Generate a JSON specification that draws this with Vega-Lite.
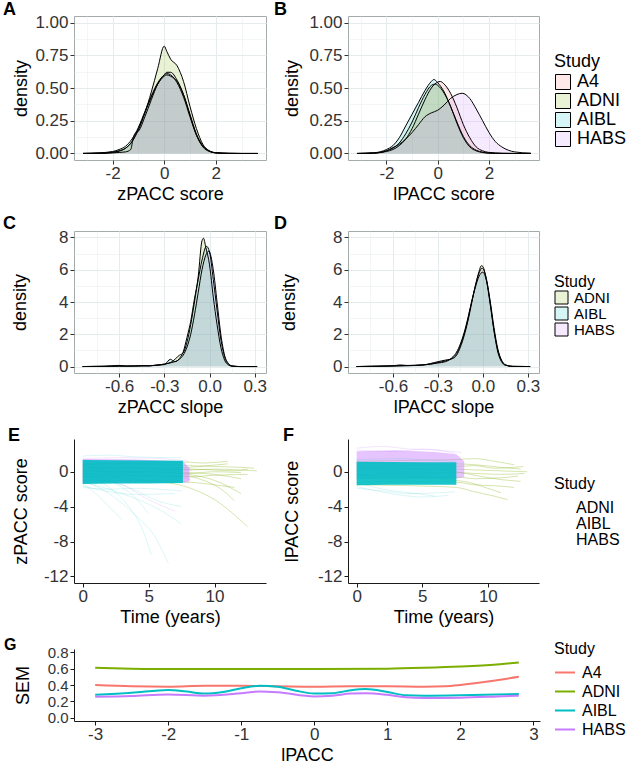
{
"$schema": "https://vega.github.io/schema/vega-lite/v6.json",
"background": "white",
"padding": {"left": 2, "top": 0, "right": 0, "bottom": 0},
"spacing": 10,
"config": {
  "font": "Liberation Sans",
  "view": {"stroke": null},
  "locale": {"number": {"decimal": ".", "thousands": ",", "grouping": [3], "currency": ["$", ""], "minus": "-"}},
  "axis": {"labelFontSize": 17, "labelColor": "#333333", "titleFontSize": 18, "titleFontWeight": "normal", "titleColor": "#000000", "tickColor": "#333333", "tickSize": 4, "tickWidth": 1, "labelPadding": 2, "gridColor": "#E6ECEE", "labelFlush": false, "labelOverlap": false},
  "axisX": {"labelPadding": 1, "titlePadding": 4},
  "legend": {"titleFontSize": 17, "titleFontWeight": "normal", "titleColor": "#000000", "labelFontSize": 17, "labelColor": "#000000"},
  "title": {"fontSize": 18, "fontWeight": "bold", "color": "#000000", "anchor": "start", "frame": "group", "baseline": "alphabetic"}
},
"resolve": {"scale": {"x": "independent", "y": "independent", "color": "independent", "fill": "independent"}, "axis": {"x": "independent", "y": "independent"}, "legend": {"color": "independent", "fill": "independent"}},
"datasets": {
  "dA": [
    {"Study":"A4","x":-3.15,"d":0},{"Study":"A4","x":-2.5,"d":0.003},{"Study":"A4","x":-2,"d":0.01},{"Study":"A4","x":-1.75,"d":0.02},{"Study":"A4","x":-1.5,"d":0.04},{"Study":"A4","x":-1.25,"d":0.09},{"Study":"A4","x":-1,"d":0.19},{"Study":"A4","x":-0.75,"d":0.31},{"Study":"A4","x":-0.5,"d":0.43},{"Study":"A4","x":-0.25,"d":0.53},{"Study":"A4","x":0,"d":0.59},{"Study":"A4","x":0.1,"d":0.6},{"Study":"A4","x":0.25,"d":0.59},{"Study":"A4","x":0.5,"d":0.55},{"Study":"A4","x":0.75,"d":0.45},{"Study":"A4","x":1,"d":0.3},{"Study":"A4","x":1.25,"d":0.15},{"Study":"A4","x":1.5,"d":0.06},{"Study":"A4","x":1.75,"d":0.02},{"Study":"A4","x":2,"d":0.006},{"Study":"A4","x":2.5,"d":0.001},{"Study":"A4","x":3,"d":0},{"Study":"A4","x":3.63,"d":0},
    {"Study":"ADNI","x":-3.15,"d":0},{"Study":"ADNI","x":-2.5,"d":0.002},{"Study":"ADNI","x":-2,"d":0.008},{"Study":"ADNI","x":-1.75,"d":0.018},{"Study":"ADNI","x":-1.5,"d":0.04},{"Study":"ADNI","x":-1.25,"d":0.09},{"Study":"ADNI","x":-1,"d":0.18},{"Study":"ADNI","x":-0.75,"d":0.31},{"Study":"ADNI","x":-0.5,"d":0.47},{"Study":"ADNI","x":-0.25,"d":0.65},{"Study":"ADNI","x":0,"d":0.82},{"Study":"ADNI","x":0.1,"d":0.78},{"Study":"ADNI","x":0.25,"d":0.72},{"Study":"ADNI","x":0.5,"d":0.67},{"Study":"ADNI","x":0.75,"d":0.55},{"Study":"ADNI","x":1,"d":0.36},{"Study":"ADNI","x":1.25,"d":0.19},{"Study":"ADNI","x":1.5,"d":0.07},{"Study":"ADNI","x":1.75,"d":0.02},{"Study":"ADNI","x":2,"d":0.005},{"Study":"ADNI","x":2.5,"d":0.001},{"Study":"ADNI","x":3,"d":0},{"Study":"ADNI","x":3.63,"d":0},
    {"Study":"AIBL","x":-3.15,"d":0.001},{"Study":"AIBL","x":-2.5,"d":0.005},{"Study":"AIBL","x":-2,"d":0.015},{"Study":"AIBL","x":-1.75,"d":0.03},{"Study":"AIBL","x":-1.5,"d":0.055},{"Study":"AIBL","x":-1.25,"d":0.11},{"Study":"AIBL","x":-1,"d":0.2},{"Study":"AIBL","x":-0.75,"d":0.32},{"Study":"AIBL","x":-0.5,"d":0.44},{"Study":"AIBL","x":-0.25,"d":0.54},{"Study":"AIBL","x":0,"d":0.6},{"Study":"AIBL","x":0.1,"d":0.61},{"Study":"AIBL","x":0.25,"d":0.6},{"Study":"AIBL","x":0.5,"d":0.54},{"Study":"AIBL","x":0.75,"d":0.43},{"Study":"AIBL","x":1,"d":0.28},{"Study":"AIBL","x":1.25,"d":0.14},{"Study":"AIBL","x":1.5,"d":0.055},{"Study":"AIBL","x":1.75,"d":0.018},{"Study":"AIBL","x":2,"d":0.005},{"Study":"AIBL","x":2.5,"d":0.001},{"Study":"AIBL","x":3,"d":0},{"Study":"AIBL","x":3.63,"d":0},
    {"Study":"HABS","x":-3.15,"d":0},{"Study":"HABS","x":-2.5,"d":0},{"Study":"HABS","x":-2,"d":0.004},{"Study":"HABS","x":-1.75,"d":0.008},{"Study":"HABS","x":-1.5,"d":0.012},{"Study":"HABS","x":-1.3,"d":0.03},{"Study":"HABS","x":-1.2,"d":0.12},{"Study":"HABS","x":-1.1,"d":0.16},{"Study":"HABS","x":-1,"d":0.17},{"Study":"HABS","x":-0.75,"d":0.28},{"Study":"HABS","x":-0.5,"d":0.41},{"Study":"HABS","x":-0.25,"d":0.53},{"Study":"HABS","x":0,"d":0.6},{"Study":"HABS","x":0.1,"d":0.62},{"Study":"HABS","x":0.25,"d":0.62},{"Study":"HABS","x":0.5,"d":0.56},{"Study":"HABS","x":0.75,"d":0.45},{"Study":"HABS","x":1,"d":0.29},{"Study":"HABS","x":1.25,"d":0.14},{"Study":"HABS","x":1.5,"d":0.05},{"Study":"HABS","x":1.75,"d":0.015},{"Study":"HABS","x":2,"d":0.004},{"Study":"HABS","x":2.5,"d":0},{"Study":"HABS","x":3,"d":0},{"Study":"HABS","x":3.63,"d":0}
  ],
  "dB": [
    {"Study":"A4","x":-3.15,"d":0},{"Study":"A4","x":-2.5,"d":0.002},{"Study":"A4","x":-2,"d":0.015},{"Study":"A4","x":-1.75,"d":0.03},{"Study":"A4","x":-1.5,"d":0.06},{"Study":"A4","x":-1.25,"d":0.11},{"Study":"A4","x":-1,"d":0.19},{"Study":"A4","x":-0.75,"d":0.3},{"Study":"A4","x":-0.5,"d":0.41},{"Study":"A4","x":-0.25,"d":0.5},{"Study":"A4","x":0,"d":0.545},{"Study":"A4","x":0.1,"d":0.55},{"Study":"A4","x":0.25,"d":0.53},{"Study":"A4","x":0.5,"d":0.46},{"Study":"A4","x":0.75,"d":0.35},{"Study":"A4","x":1,"d":0.22},{"Study":"A4","x":1.25,"d":0.12},{"Study":"A4","x":1.5,"d":0.05},{"Study":"A4","x":1.75,"d":0.02},{"Study":"A4","x":2,"d":0.008},{"Study":"A4","x":2.5,"d":0.002},{"Study":"A4","x":3,"d":0},{"Study":"A4","x":3.63,"d":0},
    {"Study":"ADNI","x":-3.15,"d":0},{"Study":"ADNI","x":-2.5,"d":0.003},{"Study":"ADNI","x":-2,"d":0.02},{"Study":"ADNI","x":-1.75,"d":0.04},{"Study":"ADNI","x":-1.5,"d":0.08},{"Study":"ADNI","x":-1.25,"d":0.15},{"Study":"ADNI","x":-1,"d":0.24},{"Study":"ADNI","x":-0.75,"d":0.35},{"Study":"ADNI","x":-0.5,"d":0.45},{"Study":"ADNI","x":-0.25,"d":0.52},{"Study":"ADNI","x":-0.1,"d":0.53},{"Study":"ADNI","x":0,"d":0.52},{"Study":"ADNI","x":0.25,"d":0.46},{"Study":"ADNI","x":0.5,"d":0.36},{"Study":"ADNI","x":0.75,"d":0.24},{"Study":"ADNI","x":1,"d":0.13},{"Study":"ADNI","x":1.25,"d":0.06},{"Study":"ADNI","x":1.5,"d":0.025},{"Study":"ADNI","x":1.75,"d":0.01},{"Study":"ADNI","x":2,"d":0.003},{"Study":"ADNI","x":2.5,"d":0},{"Study":"ADNI","x":3,"d":0},{"Study":"ADNI","x":3.63,"d":0},
    {"Study":"AIBL","x":-3.15,"d":0},{"Study":"AIBL","x":-2.5,"d":0.005},{"Study":"AIBL","x":-2,"d":0.03},{"Study":"AIBL","x":-1.75,"d":0.06},{"Study":"AIBL","x":-1.5,"d":0.12},{"Study":"AIBL","x":-1.25,"d":0.21},{"Study":"AIBL","x":-1,"d":0.3},{"Study":"AIBL","x":-0.75,"d":0.39},{"Study":"AIBL","x":-0.5,"d":0.48},{"Study":"AIBL","x":-0.25,"d":0.55},{"Study":"AIBL","x":-0.15,"d":0.565},{"Study":"AIBL","x":0,"d":0.54},{"Study":"AIBL","x":0.25,"d":0.47},{"Study":"AIBL","x":0.5,"d":0.36},{"Study":"AIBL","x":0.75,"d":0.23},{"Study":"AIBL","x":1,"d":0.12},{"Study":"AIBL","x":1.25,"d":0.05},{"Study":"AIBL","x":1.5,"d":0.02},{"Study":"AIBL","x":1.75,"d":0.007},{"Study":"AIBL","x":2,"d":0.002},{"Study":"AIBL","x":2.5,"d":0},{"Study":"AIBL","x":3,"d":0},{"Study":"AIBL","x":3.63,"d":0},
    {"Study":"HABS","x":-3.15,"d":0},{"Study":"HABS","x":-2.5,"d":0.003},{"Study":"HABS","x":-2,"d":0.02},{"Study":"HABS","x":-1.75,"d":0.045},{"Study":"HABS","x":-1.5,"d":0.07},{"Study":"HABS","x":-1.25,"d":0.11},{"Study":"HABS","x":-1,"d":0.16},{"Study":"HABS","x":-0.75,"d":0.22},{"Study":"HABS","x":-0.5,"d":0.28},{"Study":"HABS","x":-0.25,"d":0.31},{"Study":"HABS","x":0,"d":0.33},{"Study":"HABS","x":0.25,"d":0.37},{"Study":"HABS","x":0.5,"d":0.42},{"Study":"HABS","x":0.75,"d":0.45},{"Study":"HABS","x":0.95,"d":0.46},{"Study":"HABS","x":1.25,"d":0.42},{"Study":"HABS","x":1.5,"d":0.34},{"Study":"HABS","x":1.75,"d":0.25},{"Study":"HABS","x":2,"d":0.16},{"Study":"HABS","x":2.25,"d":0.09},{"Study":"HABS","x":2.5,"d":0.05},{"Study":"HABS","x":2.75,"d":0.025},{"Study":"HABS","x":3,"d":0.012},{"Study":"HABS","x":3.63,"d":0.002}
  ],
  "dC": [
    {"Study":"ADNI","x":-0.843,"d":0},{"Study":"ADNI","x":-0.7,"d":0.02},{"Study":"ADNI","x":-0.6,"d":0.07},{"Study":"ADNI","x":-0.55,"d":0.03},{"Study":"ADNI","x":-0.5,"d":0.04},{"Study":"ADNI","x":-0.45,"d":0.06},{"Study":"ADNI","x":-0.4,"d":0.04},{"Study":"ADNI","x":-0.35,"d":0.1},{"Study":"ADNI","x":-0.3,"d":0.15},{"Study":"ADNI","x":-0.25,"d":0.3},{"Study":"ADNI","x":-0.2,"d":0.7},{"Study":"ADNI","x":-0.175,"d":0.85},{"Study":"ADNI","x":-0.15,"d":1.5},{"Study":"ADNI","x":-0.125,"d":2.6},{"Study":"ADNI","x":-0.1,"d":4.0},{"Study":"ADNI","x":-0.075,"d":5.6},{"Study":"ADNI","x":-0.05,"d":7.8},{"Study":"ADNI","x":-0.04,"d":7.95},{"Study":"ADNI","x":-0.025,"d":7.4},{"Study":"ADNI","x":0,"d":6.3},{"Study":"ADNI","x":0.025,"d":4.3},{"Study":"ADNI","x":0.05,"d":2.6},{"Study":"ADNI","x":0.075,"d":1.2},{"Study":"ADNI","x":0.1,"d":0.4},{"Study":"ADNI","x":0.125,"d":0.1},{"Study":"ADNI","x":0.15,"d":0.02},{"Study":"ADNI","x":0.2,"d":0},{"Study":"ADNI","x":0.316,"d":0},
    {"Study":"AIBL","x":-0.843,"d":0},{"Study":"AIBL","x":-0.7,"d":0.01},{"Study":"AIBL","x":-0.6,"d":0.03},{"Study":"AIBL","x":-0.5,"d":0.03},{"Study":"AIBL","x":-0.4,"d":0.05},{"Study":"AIBL","x":-0.3,"d":0.12},{"Study":"AIBL","x":-0.26,"d":0.45},{"Study":"AIBL","x":-0.23,"d":0.3},{"Study":"AIBL","x":-0.2,"d":0.5},{"Study":"AIBL","x":-0.175,"d":0.9},{"Study":"AIBL","x":-0.15,"d":1.8},{"Study":"AIBL","x":-0.125,"d":2.8},{"Study":"AIBL","x":-0.1,"d":4.2},{"Study":"AIBL","x":-0.075,"d":5.4},{"Study":"AIBL","x":-0.05,"d":6.6},{"Study":"AIBL","x":-0.02,"d":7.45},{"Study":"AIBL","x":0,"d":7.1},{"Study":"AIBL","x":0.025,"d":5.4},{"Study":"AIBL","x":0.05,"d":3.5},{"Study":"AIBL","x":0.075,"d":1.7},{"Study":"AIBL","x":0.1,"d":0.6},{"Study":"AIBL","x":0.125,"d":0.15},{"Study":"AIBL","x":0.15,"d":0.03},{"Study":"AIBL","x":0.2,"d":0},{"Study":"AIBL","x":0.316,"d":0},
    {"Study":"HABS","x":-0.843,"d":0},{"Study":"HABS","x":-0.6,"d":0.02},{"Study":"HABS","x":-0.5,"d":0.03},{"Study":"HABS","x":-0.4,"d":0.05},{"Study":"HABS","x":-0.3,"d":0.15},{"Study":"HABS","x":-0.25,"d":0.25},{"Study":"HABS","x":-0.2,"d":0.45},{"Study":"HABS","x":-0.175,"d":0.7},{"Study":"HABS","x":-0.15,"d":1.2},{"Study":"HABS","x":-0.125,"d":2.0},{"Study":"HABS","x":-0.1,"d":3.2},{"Study":"HABS","x":-0.075,"d":4.6},{"Study":"HABS","x":-0.05,"d":6.0},{"Study":"HABS","x":-0.025,"d":6.9},{"Study":"HABS","x":-0.005,"d":7.15},{"Study":"HABS","x":0.025,"d":6.0},{"Study":"HABS","x":0.05,"d":4.0},{"Study":"HABS","x":0.075,"d":2.0},{"Study":"HABS","x":0.1,"d":0.7},{"Study":"HABS","x":0.125,"d":0.2},{"Study":"HABS","x":0.15,"d":0.04},{"Study":"HABS","x":0.2,"d":0},{"Study":"HABS","x":0.316,"d":0}
  ],
  "dD": [
    {"Study":"ADNI","x":-0.843,"d":0},{"Study":"ADNI","x":-0.7,"d":0.03},{"Study":"ADNI","x":-0.6,"d":0.05},{"Study":"ADNI","x":-0.55,"d":0.1},{"Study":"ADNI","x":-0.5,"d":0.06},{"Study":"ADNI","x":-0.4,"d":0.1},{"Study":"ADNI","x":-0.35,"d":0.15},{"Study":"ADNI","x":-0.3,"d":0.25},{"Study":"ADNI","x":-0.25,"d":0.35},{"Study":"ADNI","x":-0.2,"d":0.55},{"Study":"ADNI","x":-0.175,"d":0.8},{"Study":"ADNI","x":-0.15,"d":1.3},{"Study":"ADNI","x":-0.125,"d":2.0},{"Study":"ADNI","x":-0.1,"d":2.9},{"Study":"ADNI","x":-0.075,"d":4.0},{"Study":"ADNI","x":-0.05,"d":5.0},{"Study":"ADNI","x":-0.025,"d":5.9},{"Study":"ADNI","x":-0.01,"d":6.25},{"Study":"ADNI","x":0,"d":6.2},{"Study":"ADNI","x":0.025,"d":5.3},{"Study":"ADNI","x":0.05,"d":3.8},{"Study":"ADNI","x":0.075,"d":2.2},{"Study":"ADNI","x":0.1,"d":1.0},{"Study":"ADNI","x":0.125,"d":0.35},{"Study":"ADNI","x":0.15,"d":0.1},{"Study":"ADNI","x":0.2,"d":0.01},{"Study":"ADNI","x":0.316,"d":0},
    {"Study":"AIBL","x":-0.843,"d":0},{"Study":"AIBL","x":-0.7,"d":0.02},{"Study":"AIBL","x":-0.6,"d":0.04},{"Study":"AIBL","x":-0.5,"d":0.07},{"Study":"AIBL","x":-0.4,"d":0.1},{"Study":"AIBL","x":-0.3,"d":0.22},{"Study":"AIBL","x":-0.25,"d":0.3},{"Study":"AIBL","x":-0.2,"d":0.6},{"Study":"AIBL","x":-0.175,"d":0.9},{"Study":"AIBL","x":-0.15,"d":1.4},{"Study":"AIBL","x":-0.125,"d":2.1},{"Study":"AIBL","x":-0.1,"d":3.0},{"Study":"AIBL","x":-0.075,"d":4.0},{"Study":"AIBL","x":-0.05,"d":4.9},{"Study":"AIBL","x":-0.025,"d":5.6},{"Study":"AIBL","x":0,"d":5.85},{"Study":"AIBL","x":0.025,"d":5.3},{"Study":"AIBL","x":0.05,"d":4.0},{"Study":"AIBL","x":0.075,"d":2.4},{"Study":"AIBL","x":0.1,"d":1.1},{"Study":"AIBL","x":0.125,"d":0.4},{"Study":"AIBL","x":0.15,"d":0.12},{"Study":"AIBL","x":0.2,"d":0.01},{"Study":"AIBL","x":0.316,"d":0},
    {"Study":"HABS","x":-0.843,"d":0},{"Study":"HABS","x":-0.7,"d":0.01},{"Study":"HABS","x":-0.6,"d":0.03},{"Study":"HABS","x":-0.5,"d":0.05},{"Study":"HABS","x":-0.4,"d":0.1},{"Study":"HABS","x":-0.3,"d":0.3},{"Study":"HABS","x":-0.25,"d":0.4},{"Study":"HABS","x":-0.2,"d":0.5},{"Study":"HABS","x":-0.175,"d":0.7},{"Study":"HABS","x":-0.15,"d":1.2},{"Study":"HABS","x":-0.125,"d":1.9},{"Study":"HABS","x":-0.1,"d":2.8},{"Study":"HABS","x":-0.075,"d":3.9},{"Study":"HABS","x":-0.05,"d":5.0},{"Study":"HABS","x":-0.025,"d":5.8},{"Study":"HABS","x":-0.005,"d":6.1},{"Study":"HABS","x":0.025,"d":5.4},{"Study":"HABS","x":0.05,"d":3.9},{"Study":"HABS","x":0.075,"d":2.2},{"Study":"HABS","x":0.1,"d":0.9},{"Study":"HABS","x":0.125,"d":0.3},{"Study":"HABS","x":0.15,"d":0.08},{"Study":"HABS","x":0.2,"d":0.01},{"Study":"HABS","x":0.316,"d":0}
  ],
  "eBand": [
    {"Study":"HABS","t":0,"lo":-1.3,"hi":1.45},{"Study":"HABS","t":4,"lo":-1.25,"hi":1.4},{"Study":"HABS","t":7.6,"lo":-1.25,"hi":1.2},{"Study":"HABS","t":8.1,"lo":-1.1,"hi":0.4},
    {"Study":"AIBL","t":0,"lo":-1.4,"hi":1.35},{"Study":"AIBL","t":2.5,"lo":-1.35,"hi":1.32},{"Study":"AIBL","t":5,"lo":-1.35,"hi":1.3},{"Study":"AIBL","t":7.6,"lo":-1.3,"hi":1.25}
  ],
  "eLines": [
    {"Study":"ADNI","id":"g1","t":0,"v":0.8},{"Study":"ADNI","id":"g1","t":4,"v":0.9},{"Study":"ADNI","id":"g1","t":8,"v":0.7},{"Study":"ADNI","id":"g1","t":10,"v":0.6},{"Study":"ADNI","id":"g1","t":12,"v":0.5},{"Study":"ADNI","id":"g1","t":13,"v":0.4},
    {"Study":"ADNI","id":"g2","t":0,"v":0.3},{"Study":"ADNI","id":"g2","t":4,"v":0.4},{"Study":"ADNI","id":"g2","t":8,"v":0.2},{"Study":"ADNI","id":"g2","t":10,"v":0.3},{"Study":"ADNI","id":"g2","t":12,"v":0.2},{"Study":"ADNI","id":"g2","t":13.2,"v":0.1},
    {"Study":"ADNI","id":"g3","t":0,"v":-0.2},{"Study":"ADNI","id":"g3","t":4,"v":-0.1},{"Study":"ADNI","id":"g3","t":8,"v":-0.2},{"Study":"ADNI","id":"g3","t":10,"v":0.0},{"Study":"ADNI","id":"g3","t":12,"v":-0.1},
    {"Study":"ADNI","id":"g4","t":0,"v":-0.6},{"Study":"ADNI","id":"g4","t":4,"v":-0.5},{"Study":"ADNI","id":"g4","t":8,"v":-0.6},{"Study":"ADNI","id":"g4","t":10,"v":-0.4},{"Study":"ADNI","id":"g4","t":12.5,"v":-0.3},
    {"Study":"ADNI","id":"g5","t":0,"v":0.5},{"Study":"ADNI","id":"g5","t":4,"v":0.4},{"Study":"ADNI","id":"g5","t":8,"v":0.5},{"Study":"ADNI","id":"g5","t":9.5,"v":0.7},{"Study":"ADNI","id":"g5","t":11,"v":0.9},
    {"Study":"ADNI","id":"g6","t":0,"v":-1},{"Study":"ADNI","id":"g6","t":4,"v":-1.1},{"Study":"ADNI","id":"g6","t":8,"v":-1.2},{"Study":"ADNI","id":"g6","t":10,"v":-1.5},{"Study":"ADNI","id":"g6","t":11.5,"v":-1.8},
    {"Study":"ADNI","id":"g7","t":0,"v":0.1},{"Study":"ADNI","id":"g7","t":5,"v":0.0},{"Study":"ADNI","id":"g7","t":8,"v":-0.3},{"Study":"ADNI","id":"g7","t":10,"v":-1.0},{"Study":"ADNI","id":"g7","t":12,"v":-2.5},
    {"Study":"ADNI","id":"g8","t":0,"v":-0.5},{"Study":"ADNI","id":"g8","t":5,"v":-1},{"Study":"ADNI","id":"g8","t":8,"v":-1.8},{"Study":"ADNI","id":"g8","t":10,"v":-3.2},{"Study":"ADNI","id":"g8","t":12.5,"v":-6.3},
    {"Study":"ADNI","id":"g9","t":0,"v":0.9},{"Study":"ADNI","id":"g9","t":4,"v":1.0},{"Study":"ADNI","id":"g9","t":8,"v":1.1},{"Study":"ADNI","id":"g9","t":9,"v":1.0},{"Study":"ADNI","id":"g9","t":11,"v":1.2},
    {"Study":"ADNI","id":"g10","t":0,"v":0},{"Study":"ADNI","id":"g10","t":4,"v":0},{"Study":"ADNI","id":"g10","t":8,"v":0.3},{"Study":"ADNI","id":"g10","t":10,"v":0.2},{"Study":"ADNI","id":"g10","t":11.5,"v":0.1},{"Study":"ADNI","id":"g10","t":12.5,"v":0.3},
    {"Study":"ADNI","id":"g11","t":0,"v":-0.3},{"Study":"ADNI","id":"g11","t":4,"v":-0.4},{"Study":"ADNI","id":"g11","t":8,"v":-0.5},{"Study":"ADNI","id":"g11","t":9,"v":-0.9},{"Study":"ADNI","id":"g11","t":10.5,"v":-2.0},{"Study":"ADNI","id":"g11","t":11.5,"v":-3.3},
    {"Study":"ADNI","id":"g12","t":0,"v":0.6},{"Study":"ADNI","id":"g12","t":4,"v":0.5},{"Study":"ADNI","id":"g12","t":8,"v":-0.1},{"Study":"ADNI","id":"g12","t":10,"v":-0.3},{"Study":"ADNI","id":"g12","t":12,"v":-0.8},
    {"Study":"HABS","id":"h1","t":0,"v":1.5},{"Study":"HABS","id":"h1","t":3,"v":1.6},{"Study":"HABS","id":"h1","t":6,"v":1.5},{"Study":"HABS","id":"h1","t":8,"v":1.2},
    {"Study":"HABS","id":"h2","t":0,"v":-1.2},{"Study":"HABS","id":"h2","t":4,"v":-1.0},{"Study":"HABS","id":"h2","t":7.5,"v":-1.1},{"Study":"HABS","id":"h2","t":8.1,"v":-1.3},
    {"Study":"HABS","id":"h3","t":0,"v":-0.3},{"Study":"HABS","id":"h3","t":4,"v":-0.4},{"Study":"HABS","id":"h3","t":7.8,"v":-0.8},{"Study":"HABS","id":"h3","t":8.2,"v":-0.9},
    {"Study":"HABS","id":"h4","t":0,"v":0.2},{"Study":"HABS","id":"h4","t":4,"v":0.1},{"Study":"HABS","id":"h4","t":7.9,"v":0.3},{"Study":"HABS","id":"h4","t":8.3,"v":0.2},
    {"Study":"HABS","id":"h5","t":0,"v":-0.5},{"Study":"HABS","id":"h5","t":3,"v":-1.5},{"Study":"HABS","id":"h5","t":5,"v":-3.2},{"Study":"HABS","id":"h5","t":7,"v":-4.5},
    {"Study":"AIBL","id":"a1","t":0,"v":1.8},{"Study":"AIBL","id":"a1","t":2,"v":1.9},{"Study":"AIBL","id":"a1","t":4,"v":1.7},{"Study":"AIBL","id":"a1","t":7.5,"v":1.6},
    {"Study":"AIBL","id":"a2","t":0,"v":-1.8},{"Study":"AIBL","id":"a2","t":2,"v":-2.0},{"Study":"AIBL","id":"a2","t":4,"v":-1.9},{"Study":"AIBL","id":"a2","t":7.5,"v":-2.2},
    {"Study":"AIBL","id":"a3","t":0,"v":-1.6},{"Study":"AIBL","id":"a3","t":2,"v":-2.3},{"Study":"AIBL","id":"a3","t":4,"v":-2.6},{"Study":"AIBL","id":"a3","t":7,"v":-2.5},
    {"Study":"AIBL","id":"a4","t":0,"v":-1},{"Study":"AIBL","id":"a4","t":2,"v":-2.5},{"Study":"AIBL","id":"a4","t":4,"v":-5},{"Study":"AIBL","id":"a4","t":5.5,"v":-7.5},{"Study":"AIBL","id":"a4","t":6.5,"v":-10.5},
    {"Study":"AIBL","id":"a5","t":0,"v":-0.5},{"Study":"AIBL","id":"a5","t":2,"v":-1.8},{"Study":"AIBL","id":"a5","t":3.5,"v":-4},{"Study":"AIBL","id":"a5","t":4.5,"v":-6.5},{"Study":"AIBL","id":"a5","t":5.2,"v":-9.5},
    {"Study":"AIBL","id":"a6","t":0,"v":-1.2},{"Study":"AIBL","id":"a6","t":3,"v":-2.5},{"Study":"AIBL","id":"a6","t":6,"v":-4.5},{"Study":"AIBL","id":"a6","t":7.5,"v":-6},
    {"Study":"AIBL","id":"a7","t":0,"v":0},{"Study":"AIBL","id":"a7","t":2,"v":-1},{"Study":"AIBL","id":"a7","t":4,"v":-3},{"Study":"AIBL","id":"a7","t":5,"v":-4.8},
    {"Study":"AIBL","id":"a8","t":0,"v":-0.8},{"Study":"AIBL","id":"a8","t":3,"v":-1.5},{"Study":"AIBL","id":"a8","t":6,"v":-3.5},{"Study":"AIBL","id":"a8","t":7.5,"v":-4},
    {"Study":"AIBL","id":"a9","t":0,"v":-1.4},{"Study":"AIBL","id":"a9","t":1,"v":-2.5},{"Study":"AIBL","id":"a9","t":2,"v":-4},{"Study":"AIBL","id":"a9","t":3,"v":-5.5}
  ],
  "fBand": [
    {"Study":"HABS","t":0,"lo":-0.8,"hi":2.35},{"Study":"HABS","t":3,"lo":-0.8,"hi":2.45},{"Study":"HABS","t":6,"lo":-0.8,"hi":2.25},{"Study":"HABS","t":7.6,"lo":-0.8,"hi":2.0},{"Study":"HABS","t":8.2,"lo":-0.6,"hi":1.2},
    {"Study":"AIBL","t":0,"lo":-1.55,"hi":1.15},{"Study":"AIBL","t":2.5,"lo":-1.5,"hi":1.12},{"Study":"AIBL","t":5,"lo":-1.5,"hi":1.1},{"Study":"AIBL","t":7.6,"lo":-1.5,"hi":1.1}
  ],
  "fLines": [
    {"Study":"ADNI","id":"g1","t":0,"v":1.2},{"Study":"ADNI","id":"g1","t":4,"v":1.3},{"Study":"ADNI","id":"g1","t":7.6,"v":1.4},{"Study":"ADNI","id":"g1","t":9,"v":1.5},{"Study":"ADNI","id":"g1","t":10.5,"v":1.2},{"Study":"ADNI","id":"g1","t":12,"v":0.8},
    {"Study":"ADNI","id":"g2","t":0,"v":0.6},{"Study":"ADNI","id":"g2","t":4,"v":0.7},{"Study":"ADNI","id":"g2","t":7.6,"v":0.9},{"Study":"ADNI","id":"g2","t":9,"v":0.8},{"Study":"ADNI","id":"g2","t":11,"v":0.5},{"Study":"ADNI","id":"g2","t":12.5,"v":0.3},
    {"Study":"ADNI","id":"g3","t":0,"v":0.1},{"Study":"ADNI","id":"g3","t":4,"v":0.2},{"Study":"ADNI","id":"g3","t":7.6,"v":0.3},{"Study":"ADNI","id":"g3","t":9,"v":0.2},{"Study":"ADNI","id":"g3","t":11,"v":0.1},{"Study":"ADNI","id":"g3","t":13,"v":0.0},
    {"Study":"ADNI","id":"g4","t":0,"v":-0.3},{"Study":"ADNI","id":"g4","t":4,"v":-0.2},{"Study":"ADNI","id":"g4","t":7.6,"v":-0.1},{"Study":"ADNI","id":"g4","t":9,"v":-0.2},{"Study":"ADNI","id":"g4","t":11,"v":-0.3},{"Study":"ADNI","id":"g4","t":12.8,"v":-0.2},
    {"Study":"ADNI","id":"g5","t":0,"v":-0.8},{"Study":"ADNI","id":"g5","t":4,"v":-0.7},{"Study":"ADNI","id":"g5","t":7.6,"v":-0.6},{"Study":"ADNI","id":"g5","t":9,"v":-0.8},{"Study":"ADNI","id":"g5","t":11,"v":-0.7},{"Study":"ADNI","id":"g5","t":12.3,"v":-0.5},
    {"Study":"ADNI","id":"g6","t":0,"v":-1.2},{"Study":"ADNI","id":"g6","t":4,"v":-1.1},{"Study":"ADNI","id":"g6","t":7.6,"v":-1.2},{"Study":"ADNI","id":"g6","t":9,"v":-1.5},{"Study":"ADNI","id":"g6","t":10.5,"v":-1.6},{"Study":"ADNI","id":"g6","t":12,"v":-1.8},
    {"Study":"ADNI","id":"g7","t":0,"v":-1.5},{"Study":"ADNI","id":"g7","t":4,"v":-1.6},{"Study":"ADNI","id":"g7","t":7.6,"v":-1.8},{"Study":"ADNI","id":"g7","t":9,"v":-2.3},{"Study":"ADNI","id":"g7","t":10.5,"v":-2.8},{"Study":"ADNI","id":"g7","t":11.5,"v":-3.2},
    {"Study":"ADNI","id":"g8","t":0,"v":0.4},{"Study":"ADNI","id":"g8","t":4,"v":0.4},{"Study":"ADNI","id":"g8","t":7.6,"v":0.0},{"Study":"ADNI","id":"g8","t":9,"v":-0.4},{"Study":"ADNI","id":"g8","t":11,"v":-0.9},{"Study":"ADNI","id":"g8","t":12.5,"v":-1.1},
    {"Study":"ADNI","id":"g9","t":0,"v":0.9},{"Study":"ADNI","id":"g9","t":4,"v":1.0},{"Study":"ADNI","id":"g9","t":7.6,"v":0.6},{"Study":"ADNI","id":"g9","t":9,"v":0.7},{"Study":"ADNI","id":"g9","t":10.5,"v":0.4},{"Study":"ADNI","id":"g9","t":12.7,"v":0.6},
    {"Study":"ADNI","id":"g10","t":0,"v":-0.5},{"Study":"ADNI","id":"g10","t":4,"v":-0.5},{"Study":"ADNI","id":"g10","t":7.6,"v":-1.0},{"Study":"ADNI","id":"g10","t":8.5,"v":-1.2},{"Study":"ADNI","id":"g10","t":10,"v":-1.9},{"Study":"ADNI","id":"g10","t":11,"v":-2.4},
    {"Study":"HABS","id":"h1","t":0,"v":2.7},{"Study":"HABS","id":"h1","t":2,"v":2.9},{"Study":"HABS","id":"h1","t":4,"v":2.6},{"Study":"HABS","id":"h1","t":6,"v":2.5},{"Study":"HABS","id":"h1","t":8,"v":2.2},
    {"Study":"HABS","id":"h2","t":0,"v":2.5},{"Study":"HABS","id":"h2","t":3,"v":2.3},{"Study":"HABS","id":"h2","t":5,"v":2.6},{"Study":"HABS","id":"h2","t":7.5,"v":2.1},
    {"Study":"AIBL","id":"a1","t":0,"v":-1.9},{"Study":"AIBL","id":"a1","t":2,"v":-2.2},{"Study":"AIBL","id":"a1","t":4,"v":-2.5},{"Study":"AIBL","id":"a1","t":7.5,"v":-2.3},
    {"Study":"AIBL","id":"a2","t":0,"v":-1.7},{"Study":"AIBL","id":"a2","t":3,"v":-2.6},{"Study":"AIBL","id":"a2","t":5,"v":-2.9},{"Study":"AIBL","id":"a2","t":7,"v":-2.7},
    {"Study":"AIBL","id":"a3","t":0,"v":-1.2},{"Study":"AIBL","id":"a3","t":2,"v":-2.0},{"Study":"AIBL","id":"a3","t":4,"v":-2.4},{"Study":"AIBL","id":"a3","t":6,"v":-2.8},
    {"Study":"AIBL","id":"a4","t":0,"v":1.4},{"Study":"AIBL","id":"a4","t":3,"v":1.5},{"Study":"AIBL","id":"a4","t":6,"v":1.3},{"Study":"AIBL","id":"a4","t":7.5,"v":1.2}
  ],
  "g": [
    {"Study":"A4","x":-3,"sem":0.4},{"Study":"A4","x":-2.5,"sem":0.385},{"Study":"A4","x":-2,"sem":0.38},{"Study":"A4","x":-1.5,"sem":0.39},{"Study":"A4","x":-1,"sem":0.39},{"Study":"A4","x":-0.5,"sem":0.385},{"Study":"A4","x":0,"sem":0.38},{"Study":"A4","x":0.5,"sem":0.385},{"Study":"A4","x":1,"sem":0.385},{"Study":"A4","x":1.5,"sem":0.38},{"Study":"A4","x":1.8,"sem":0.385},{"Study":"A4","x":2,"sem":0.4},{"Study":"A4","x":2.4,"sem":0.445},{"Study":"A4","x":2.8,"sem":0.5},
    {"Study":"ADNI","x":-3,"sem":0.61},{"Study":"ADNI","x":-2.5,"sem":0.6},{"Study":"ADNI","x":-2,"sem":0.595},{"Study":"ADNI","x":-1,"sem":0.595},{"Study":"ADNI","x":0,"sem":0.595},{"Study":"ADNI","x":1,"sem":0.6},{"Study":"ADNI","x":1.5,"sem":0.61},{"Study":"ADNI","x":2,"sem":0.625},{"Study":"ADNI","x":2.5,"sem":0.65},{"Study":"ADNI","x":2.8,"sem":0.675},
    {"Study":"AIBL","x":-3,"sem":0.28},{"Study":"AIBL","x":-2.5,"sem":0.305},{"Study":"AIBL","x":-2,"sem":0.34},{"Study":"AIBL","x":-1.75,"sem":0.32},{"Study":"AIBL","x":-1.5,"sem":0.295},{"Study":"AIBL","x":-1.25,"sem":0.315},{"Study":"AIBL","x":-1,"sem":0.36},{"Study":"AIBL","x":-0.75,"sem":0.39},{"Study":"AIBL","x":-0.5,"sem":0.38},{"Study":"AIBL","x":-0.25,"sem":0.33},{"Study":"AIBL","x":0,"sem":0.295},{"Study":"AIBL","x":0.25,"sem":0.3},{"Study":"AIBL","x":0.5,"sem":0.335},{"Study":"AIBL","x":0.7,"sem":0.35},{"Study":"AIBL","x":1,"sem":0.315},{"Study":"AIBL","x":1.25,"sem":0.275},{"Study":"AIBL","x":1.5,"sem":0.27},{"Study":"AIBL","x":2,"sem":0.275},{"Study":"AIBL","x":2.5,"sem":0.285},{"Study":"AIBL","x":2.8,"sem":0.29},
    {"Study":"HABS","x":-3,"sem":0.255},{"Study":"HABS","x":-2.5,"sem":0.265},{"Study":"HABS","x":-2,"sem":0.285},{"Study":"HABS","x":-1.5,"sem":0.27},{"Study":"HABS","x":-1,"sem":0.3},{"Study":"HABS","x":-0.75,"sem":0.32},{"Study":"HABS","x":-0.5,"sem":0.31},{"Study":"HABS","x":0,"sem":0.26},{"Study":"HABS","x":0.25,"sem":0.27},{"Study":"HABS","x":0.5,"sem":0.295},{"Study":"HABS","x":0.7,"sem":0.3},{"Study":"HABS","x":1,"sem":0.28},{"Study":"HABS","x":1.25,"sem":0.25},{"Study":"HABS","x":1.5,"sem":0.24},{"Study":"HABS","x":2,"sem":0.245},{"Study":"HABS","x":2.5,"sem":0.26},{"Study":"HABS","x":2.8,"sem":0.27}
  ]
},
"vconcat": [
  {
    "hconcat": [
      {
        "width": 192, "height": 144,
        "view": {"stroke": "#A3ABAB", "strokeWidth": 1},
        "title": {"text": "A", "dx": -71, "offset": -5.5},
        "data": {"name": "dA"},
        "encoding": {
          "x": {"field": "x", "type": "quantitative", "title": "zPACC score", "scale": {"domain": [-3.5, 3.95], "nice": false, "zero": false},
                "axis": {"values": [-3,-2,-1,0,1,2,3], "format": "d", "domain": false, "grid": true, "labelExpr": "indexof([-2,0,2], datum.value) >= 0 ? datum.label : ''", "tickOpacity": {"condition": {"test": "indexof([-2,0,2], datum.value) >= 0", "value": 1}, "value": 0}, "gridWidth": {"condition": {"test": "indexof([-2,0,2], datum.value) >= 0", "value": 1}, "value": 0.5}}},
          "y": {"field": "d", "type": "quantitative", "title": "density", "stack": null, "scale": {"domain": [-0.05, 1.05], "nice": false},
                "axis": {"values": [0,0.125,0.25,0.375,0.5,0.625,0.75,0.875,1], "format": ".2f", "domain": false, "grid": true, "titlePadding": 4, "labelExpr": "indexof([0,0.25,0.5,0.75,1], datum.value) >= 0 ? datum.label : ''", "tickOpacity": {"condition": {"test": "indexof([0,0.25,0.5,0.75,1], datum.value) >= 0", "value": 1}, "value": 0}, "gridWidth": {"condition": {"test": "indexof([0,0.25,0.5,0.75,1], datum.value) >= 0", "value": 1}, "value": 0.5}}}
        },
        "layer": [
          {"mark": {"type": "area", "interpolate": "monotone", "fillOpacity": 0.16}, "encoding": {"fill": {"field": "Study", "type": "nominal", "scale": {"domain": ["A4","ADNI","AIBL","HABS"], "range": ["#F8766D","#7CAE00","#00BFC4","#C77CFF"]}, "legend": null}}},
          {"mark": {"type": "line", "interpolate": "monotone", "color": "black", "strokeWidth": 1}, "encoding": {"detail": {"field": "Study", "type": "nominal"}}}
        ]
      },
      {
        "width": 191, "height": 144,
        "view": {"stroke": "#A3ABAB", "strokeWidth": 1},
        "title": {"text": "B", "dx": -74, "offset": -5.5},
        "data": {"name": "dB"},
        "encoding": {
          "x": {"field": "x", "type": "quantitative", "title": "lPACC score", "scale": {"domain": [-3.5, 3.95], "nice": false, "zero": false},
                "axis": {"values": [-3,-2,-1,0,1,2,3], "format": "d", "domain": false, "grid": true, "labelExpr": "indexof([-2,0,2], datum.value) >= 0 ? datum.label : ''", "tickOpacity": {"condition": {"test": "indexof([-2,0,2], datum.value) >= 0", "value": 1}, "value": 0}, "gridWidth": {"condition": {"test": "indexof([-2,0,2], datum.value) >= 0", "value": 1}, "value": 0.5}}},
          "y": {"field": "d", "type": "quantitative", "title": "density", "stack": null, "scale": {"domain": [-0.05, 1.05], "nice": false},
                "axis": {"values": [0,0.125,0.25,0.375,0.5,0.625,0.75,0.875,1], "format": ".2f", "domain": false, "grid": true, "titlePadding": 7, "labelExpr": "indexof([0,0.25,0.5,0.75,1], datum.value) >= 0 ? datum.label : ''", "tickOpacity": {"condition": {"test": "indexof([0,0.25,0.5,0.75,1], datum.value) >= 0", "value": 1}, "value": 0}, "gridWidth": {"condition": {"test": "indexof([0,0.25,0.5,0.75,1], datum.value) >= 0", "value": 1}, "value": 0.5}}}
        },
        "layer": [
          {"mark": {"type": "area", "interpolate": "monotone", "fillOpacity": 0.16}, "encoding": {"fill": {"field": "Study", "type": "nominal", "scale": {"domain": ["A4","ADNI","AIBL","HABS"], "range": ["#F8766D","#7CAE00","#00BFC4","#C77CFF"]},
             "legend": {"orient": "none", "legendX": 206, "legendY": 37, "title": "Study", "titleFontSize": 18, "labelFontSize": 18, "symbolType": "square", "symbolSize": 225, "symbolStrokeColor": "black", "symbolStrokeWidth": 1, "titlePadding": 2, "rowPadding": -7.5, "labelOffset": 5,
                        "encode": {"symbols": {"update": {"fillOpacity": {"value": 0.16}, "stroke": {"value": "black"}, "strokeWidth": {"value": 1}}}}}}}},
          {"mark": {"type": "line", "interpolate": "monotone", "color": "black", "strokeWidth": 1}, "encoding": {"detail": {"field": "Study", "type": "nominal"}}}
        ]
      }
    ],
    "spacing": 82, "bounds": "flush",
    "resolve": {"scale": {"x": "independent", "y": "independent", "fill": "independent"}, "axis": {"x": "independent", "y": "independent"}, "legend": {"fill": "independent"}}
  },
  {
    "hconcat": [
      {
        "width": 192, "height": 142,
        "view": {"stroke": "#A3ABAB", "strokeWidth": 1},
        "title": {"text": "C", "dx": -71, "offset": -5},
        "data": {"name": "dC"},
        "encoding": {
          "x": {"field": "x", "type": "quantitative", "title": "zPACC slope", "scale": {"domain": [-0.9, 0.375], "nice": false, "zero": false},
                "axis": {"values": [-0.75,-0.6,-0.45,-0.3,-0.15,0,0.15,0.3], "format": ".1f", "domain": false, "grid": true, "labelExpr": "indexof([-0.6,-0.3,0,0.3], datum.value) >= 0 ? datum.label : ''", "tickOpacity": {"condition": {"test": "indexof([-0.6,-0.3,0,0.3], datum.value) >= 0", "value": 1}, "value": 0}, "gridWidth": {"condition": {"test": "indexof([-0.6,-0.3,0,0.3], datum.value) >= 0", "value": 1}, "value": 0.5}}},
          "y": {"field": "d", "type": "quantitative", "title": "density", "stack": null, "scale": {"domain": [-0.4, 8.4], "nice": false},
                "axis": {"values": [0,1,2,3,4,5,6,7,8], "format": "d", "domain": false, "grid": true, "titlePadding": 29, "labelExpr": "datum.value % 2 == 0 ? datum.label : ''", "tickOpacity": {"condition": {"test": "datum.value % 2 == 0", "value": 1}, "value": 0}, "gridWidth": {"condition": {"test": "datum.value % 2 == 0", "value": 1}, "value": 0.5}}}
        },
        "layer": [
          {"mark": {"type": "area", "interpolate": "monotone", "fillOpacity": 0.16}, "encoding": {"fill": {"field": "Study", "type": "nominal", "scale": {"domain": ["ADNI","AIBL","HABS"], "range": ["#7CAE00","#00BFC4","#C77CFF"]}, "legend": null}}},
          {"mark": {"type": "line", "interpolate": "monotone", "color": "black", "strokeWidth": 1}, "encoding": {"detail": {"field": "Study", "type": "nominal"}}}
        ]
      },
      {
        "width": 191, "height": 142,
        "view": {"stroke": "#A3ABAB", "strokeWidth": 1},
        "title": {"text": "D", "dx": -74, "offset": -5},
        "data": {"name": "dD"},
        "encoding": {
          "x": {"field": "x", "type": "quantitative", "title": "lPACC slope", "scale": {"domain": [-0.9, 0.375], "nice": false, "zero": false},
                "axis": {"values": [-0.75,-0.6,-0.45,-0.3,-0.15,0,0.15,0.3], "format": ".1f", "domain": false, "grid": true, "labelExpr": "indexof([-0.6,-0.3,0,0.3], datum.value) >= 0 ? datum.label : ''", "tickOpacity": {"condition": {"test": "indexof([-0.6,-0.3,0,0.3], datum.value) >= 0", "value": 1}, "value": 0}, "gridWidth": {"condition": {"test": "indexof([-0.6,-0.3,0,0.3], datum.value) >= 0", "value": 1}, "value": 0.5}}},
          "y": {"field": "d", "type": "quantitative", "title": "density", "stack": null, "scale": {"domain": [-0.4, 8.4], "nice": false},
                "axis": {"values": [0,1,2,3,4,5,6,7,8], "format": "d", "domain": false, "grid": true, "titlePadding": 34, "labelExpr": "datum.value % 2 == 0 ? datum.label : ''", "tickOpacity": {"condition": {"test": "datum.value % 2 == 0", "value": 1}, "value": 0}, "gridWidth": {"condition": {"test": "datum.value % 2 == 0", "value": 1}, "value": 0.5}}}
        },
        "layer": [
          {"mark": {"type": "area", "interpolate": "monotone", "fillOpacity": 0.16}, "encoding": {"fill": {"field": "Study", "type": "nominal", "scale": {"domain": ["ADNI","AIBL","HABS"], "range": ["#7CAE00","#00BFC4","#C77CFF"]},
             "legend": {"orient": "none", "legendX": 206, "legendY": 43, "title": "Study", "titleFontSize": 16, "labelFontSize": 15, "symbolType": "square", "symbolSize": 169, "symbolStrokeColor": "black", "symbolStrokeWidth": 1, "titlePadding": 0, "rowPadding": -10, "labelOffset": 5,
                        "encode": {"symbols": {"update": {"fillOpacity": {"value": 0.16}, "stroke": {"value": "black"}, "strokeWidth": {"value": 1}}}}}}}},
          {"mark": {"type": "line", "interpolate": "monotone", "color": "black", "strokeWidth": 1}, "encoding": {"detail": {"field": "Study", "type": "nominal"}}}
        ]
      }
    ],
    "spacing": 82, "bounds": "flush",
    "resolve": {"scale": {"x": "independent", "y": "independent", "fill": "independent"}, "axis": {"x": "independent", "y": "independent"}, "legend": {"fill": "independent"}}
  },
  {
    "hconcat": [
      {
        "width": 192, "height": 144,
        "title": {"text": "E", "dx": -66, "offset": -6},
        "layer": [
          {"data": {"name": "eLines"}, "transform": [{"filter": "datum.Study == 'ADNI'"}], "mark": {"type": "line", "interpolate": "monotone", "strokeWidth": 0.8, "opacity": 0.4},
           "encoding": {"x": {"field": "t", "type": "quantitative", "title": "Time (years)", "scale": {"domain": [-0.66, 13.9], "nice": false, "zero": false}, "axis": {"values": [0,5,10], "format": "d", "domain": true, "domainColor": "#1a1a1a", "tickColor": "#1a1a1a", "grid": false}},
                        "y": {"field": "v", "type": "quantitative", "title": "zPACC score", "scale": {"domain": [-12.75, 3.75], "nice": false, "zero": false}, "axis": {"values": [-12,-8,-4,0], "format": "d", "domain": true, "domainColor": "#1a1a1a", "tickColor": "#1a1a1a", "grid": false, "titlePadding": 13}},
                        "color": {"field": "Study", "type": "nominal", "scale": {"domain": ["ADNI","AIBL","HABS"], "range": ["#7CAE00","#00BFC4","#C77CFF"]}, "legend": null},
                        "detail": {"field": "id", "type": "nominal"}}},
          {"data": {"name": "eBand"}, "transform": [{"filter": "datum.Study == 'HABS'"}], "mark": {"type": "area", "opacity": 0.5},
           "encoding": {"x": {"field": "t", "type": "quantitative", "title": "Time (years)"}, "y": {"field": "lo", "type": "quantitative", "title": "zPACC score"}, "y2": {"field": "hi"}, "color": {"field": "Study", "type": "nominal", "legend": null}}},
          {"data": {"name": "eLines"}, "transform": [{"filter": "datum.Study == 'HABS'"}], "mark": {"type": "line", "interpolate": "monotone", "strokeWidth": 0.8, "opacity": 0.25},
           "encoding": {"x": {"field": "t", "type": "quantitative", "title": "Time (years)"}, "y": {"field": "v", "type": "quantitative", "title": "zPACC score"}, "color": {"field": "Study", "type": "nominal", "legend": null}, "detail": {"field": "id", "type": "nominal"}}},
          {"data": {"name": "eBand"}, "transform": [{"filter": "datum.Study == 'AIBL'"}], "mark": {"type": "area", "opacity": 0.9},
           "encoding": {"x": {"field": "t", "type": "quantitative", "title": "Time (years)"}, "y": {"field": "lo", "type": "quantitative", "title": "zPACC score"}, "y2": {"field": "hi"}, "color": {"field": "Study", "type": "nominal", "legend": null}}},
          {"data": {"name": "eLines"}, "transform": [{"filter": "datum.Study == 'AIBL'"}], "mark": {"type": "line", "interpolate": "monotone", "strokeWidth": 0.8, "opacity": 0.18},
           "encoding": {"x": {"field": "t", "type": "quantitative", "title": "Time (years)"}, "y": {"field": "v", "type": "quantitative", "title": "zPACC score"}, "color": {"field": "Study", "type": "nominal", "legend": null}, "detail": {"field": "id", "type": "nominal"}}}
        ]
      },
      {
        "width": 191, "height": 144,
        "title": {"text": "F", "dx": -65, "offset": -6},
        "layer": [
          {"data": {"name": "fLines"}, "transform": [{"filter": "datum.Study == 'ADNI'"}], "mark": {"type": "line", "interpolate": "monotone", "strokeWidth": 0.8, "opacity": 0.4},
           "encoding": {"x": {"field": "t", "type": "quantitative", "title": "Time (years)", "scale": {"domain": [-0.66, 13.9], "nice": false, "zero": false}, "axis": {"values": [0,5,10], "format": "d", "domain": true, "domainColor": "#1a1a1a", "tickColor": "#1a1a1a", "grid": false}},
                        "y": {"field": "v", "type": "quantitative", "title": "lPACC score", "scale": {"domain": [-12.75, 3.75], "nice": false, "zero": false}, "axis": {"values": [-12,-8,-4,0], "format": "d", "domain": true, "domainColor": "#1a1a1a", "tickColor": "#1a1a1a", "grid": false, "titlePadding": 16}},
                        "color": {"field": "Study", "type": "nominal", "scale": {"domain": ["ADNI","AIBL","HABS"], "range": ["#7CAE00","#00BFC4","#C77CFF"]},
                                  "legend": {"orient": "none", "legendX": 206, "legendY": 37, "title": "Study", "titleFontSize": 16, "labelFontSize": 16, "symbolType": "M0,0", "symbolSize": 100, "symbolOpacity": 0, "titlePadding": 8, "rowPadding": -3, "labelOffset": 6,
                                             "encode": {"symbols": {"update": {"opacity": {"value": 0}, "fill": {"value": "transparent"}, "stroke": {"value": "transparent"}}}}}},
                        "detail": {"field": "id", "type": "nominal"}}},
          {"data": {"name": "fBand"}, "transform": [{"filter": "datum.Study == 'HABS'"}], "mark": {"type": "area", "opacity": 0.45},
           "encoding": {"x": {"field": "t", "type": "quantitative", "title": "Time (years)"}, "y": {"field": "lo", "type": "quantitative", "title": "lPACC score"}, "y2": {"field": "hi"},
                        "color": {"field": "Study", "type": "nominal", "legend": {"orient": "none", "legendX": 206, "legendY": 37, "title": "Study", "titleFontSize": 16, "labelFontSize": 16, "symbolType": "M0,0", "symbolSize": 100, "symbolOpacity": 0, "titlePadding": 8, "rowPadding": -3, "labelOffset": 6, "encode": {"symbols": {"update": {"opacity": {"value": 0}, "fill": {"value": "transparent"}, "stroke": {"value": "transparent"}}}}}}}},
          {"data": {"name": "fLines"}, "transform": [{"filter": "datum.Study == 'HABS'"}], "mark": {"type": "line", "interpolate": "monotone", "strokeWidth": 0.8, "opacity": 0.25},
           "encoding": {"x": {"field": "t", "type": "quantitative", "title": "Time (years)"}, "y": {"field": "v", "type": "quantitative", "title": "lPACC score"},
                        "color": {"field": "Study", "type": "nominal", "legend": {"orient": "none", "legendX": 206, "legendY": 37, "title": "Study", "titleFontSize": 16, "labelFontSize": 16, "symbolType": "M0,0", "symbolSize": 100, "symbolOpacity": 0, "titlePadding": 8, "rowPadding": -3, "labelOffset": 6, "encode": {"symbols": {"update": {"opacity": {"value": 0}, "fill": {"value": "transparent"}, "stroke": {"value": "transparent"}}}}}}, "detail": {"field": "id", "type": "nominal"}}},
          {"data": {"name": "fBand"}, "transform": [{"filter": "datum.Study == 'AIBL'"}], "mark": {"type": "area", "opacity": 0.9},
           "encoding": {"x": {"field": "t", "type": "quantitative", "title": "Time (years)"}, "y": {"field": "lo", "type": "quantitative", "title": "lPACC score"}, "y2": {"field": "hi"},
                        "color": {"field": "Study", "type": "nominal", "legend": {"orient": "none", "legendX": 206, "legendY": 37, "title": "Study", "titleFontSize": 16, "labelFontSize": 16, "symbolType": "M0,0", "symbolSize": 100, "symbolOpacity": 0, "titlePadding": 8, "rowPadding": -3, "labelOffset": 6, "encode": {"symbols": {"update": {"opacity": {"value": 0}, "fill": {"value": "transparent"}, "stroke": {"value": "transparent"}}}}}}}},
          {"data": {"name": "fLines"}, "transform": [{"filter": "datum.Study == 'AIBL'"}], "mark": {"type": "line", "interpolate": "monotone", "strokeWidth": 0.8, "opacity": 0.18},
           "encoding": {"x": {"field": "t", "type": "quantitative", "title": "Time (years)"}, "y": {"field": "v", "type": "quantitative", "title": "lPACC score"},
                        "color": {"field": "Study", "type": "nominal", "legend": {"orient": "none", "legendX": 206, "legendY": 37, "title": "Study", "titleFontSize": 16, "labelFontSize": 16, "symbolType": "M0,0", "symbolSize": 100, "symbolOpacity": 0, "titlePadding": 8, "rowPadding": -3, "labelOffset": 6, "encode": {"symbols": {"update": {"opacity": {"value": 0}, "fill": {"value": "transparent"}, "stroke": {"value": "transparent"}}}}}}, "detail": {"field": "id", "type": "nominal"}}}
        ]
      }
    ],
    "spacing": 82, "bounds": "flush",
    "resolve": {"scale": {"x": "independent", "y": "independent", "color": "independent"}, "axis": {"x": "independent", "y": "independent"}, "legend": {"color": "independent"}}
  },
  {
    "width": 466, "height": 72,
    "title": {"text": "G", "dx": -70, "offset": -12, "fontSize": 16},
    "data": {"name": "g"},
    "mark": {"type": "line", "interpolate": "monotone", "strokeWidth": 2},
    "encoding": {
      "x": {"field": "x", "type": "quantitative", "title": "lPACC", "scale": {"domain": [-3.29, 3.09], "nice": false, "zero": false}, "axis": {"values": [-3,-2,-1,0,1,2,3], "format": "d", "domain": true, "domainColor": "#1a1a1a", "tickColor": "#1a1a1a", "grid": false}},
      "y": {"field": "sem", "type": "quantitative", "title": "SEM", "scale": {"domain": [-0.04, 0.84], "nice": false}, "axis": {"values": [0,0.2,0.4,0.6,0.8], "format": ".1f", "labelFontSize": 15, "domain": true, "domainColor": "#1a1a1a", "tickColor": "#1a1a1a", "grid": false, "titlePadding": 15}},
      "color": {"field": "Study", "type": "nominal", "scale": {"domain": ["A4","ADNI","AIBL","HABS"], "range": ["#F8766D","#7CAE00","#00BFC4","#C77CFF"]},
                "legend": {"orient": "none", "legendX": 480, "legendY": -8.5, "title": "Study", "titleFontSize": 16, "labelFontSize": 16, "symbolType": "stroke", "symbolStrokeWidth": 2, "symbolSize": 400, "titlePadding": 5, "rowPadding": -6, "labelOffset": 6}}
    }
  }
]
}
